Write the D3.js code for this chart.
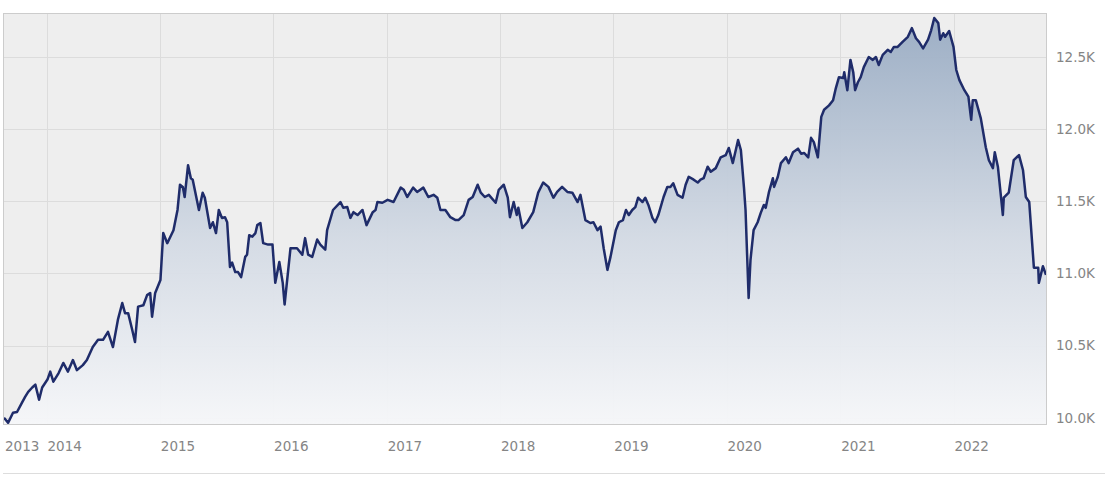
<!DOCTYPE html>
<html>
<head>
<meta charset="utf-8">
<script src="https://cdn.jsdelivr.net/npm/d3@7"></script>
<style>
  html, body { margin: 0; padding: 0; background: #fff; }
  svg { display: block; }
  .lbl { font-family: "DejaVu Sans", Verdana, sans-serif; font-size: 13.5px; fill: #858585; }
</style>
</head>
<body>
<svg id="chart" width="1105" height="486"></svg>
<script>
// weekly-ish index value
var dates2013 = ["2013-08-17","2013-08-30","2013-09-15","2013-09-28","2013-10-14","2013-10-24","2013-11-03","2013-11-16","2013-11-26","2013-12-08","2013-12-18"];
var values2013 = [10000,9965,10035,10040,10105,10145,10180,10210,10230,10125,10210];

var dates2014 = ["2014-01-04","2014-01-13","2014-01-23","2014-02-09","2014-02-24","2014-03-11","2014-03-27","2014-04-09","2014-04-28","2014-05-11","2014-05-30","2014-06-16","2014-07-02","2014-07-18","2014-08-03","2014-08-19","2014-09-02","2014-09-11","2014-09-21","2014-10-04","2014-10-13","2014-10-23","2014-11-09","2014-11-21","2014-12-01","2014-12-07","2014-12-17"];
var values2014 = [10265,10320,10250,10310,10380,10320,10400,10330,10365,10400,10490,10540,10540,10595,10490,10680,10795,10725,10725,10610,10525,10770,10780,10850,10865,10700,10865];

var dates2015 = ["2015-01-03","2015-01-12","2015-01-25","2015-02-14","2015-02-27","2015-03-07","2015-03-16","2015-03-22","2015-04-02","2015-04-11","2015-04-17","2015-05-07","2015-05-19","2015-05-26","2015-06-12","2015-06-21","2015-07-01","2015-07-10","2015-07-20","2015-07-30","2015-08-06","2015-08-15","2015-08-22","2015-09-01","2015-09-10","2015-09-20","2015-10-03","2015-10-09","2015-10-16","2015-10-26","2015-11-05","2015-11-11","2015-11-21","2015-11-30","2015-12-16","2015-12-30"];
var values2015 = [10955,11280,11210,11300,11440,11615,11600,11530,11750,11660,11650,11440,11560,11525,11315,11355,11280,11440,11385,11390,11355,11045,11075,11010,11010,10975,11115,11130,11265,11255,11280,11335,11350,11210,11200,11200];

var dates2016 = ["2016-01-08","2016-01-21","2016-02-01","2016-02-07","2016-02-26","2016-03-18","2016-04-04","2016-04-13","2016-04-23","2016-05-06","2016-05-22","2016-06-01","2016-06-17","2016-06-23","2016-07-12","2016-08-05","2016-08-14","2016-08-27","2016-09-06","2016-09-16","2016-09-29","2016-10-15","2016-10-28","2016-11-17","2016-11-26","2016-12-02","2016-12-18"];
var values2016 = [10935,11080,10935,10785,11175,11175,11130,11245,11130,11115,11235,11200,11165,11300,11440,11495,11455,11460,11385,11425,11405,11440,11335,11425,11440,11495,11490];

var dates2017 = ["2017-01-04","2017-01-23","2017-02-15","2017-02-25","2017-03-08","2017-03-27","2017-04-09","2017-04-29","2017-05-15","2017-06-01","2017-06-13","2017-06-23","2017-07-09","2017-07-25","2017-08-11","2017-08-20","2017-09-06","2017-09-22","2017-10-05","2017-10-21","2017-10-31","2017-11-13","2017-11-26","2017-12-18","2017-12-28"];
var values2017 = [11510,11495,11595,11580,11530,11595,11565,11595,11530,11545,11525,11440,11440,11390,11370,11370,11405,11510,11530,11615,11560,11530,11545,11490,11580];

var dates2018 = ["2018-01-13","2018-01-26","2018-02-02","2018-02-14","2018-02-24","2018-03-01","2018-03-14","2018-03-30","2018-04-18","2018-05-04","2018-05-20","2018-06-06","2018-06-22","2018-07-04","2018-07-20","2018-08-06","2018-08-22","2018-09-08","2018-09-17","2018-10-03","2018-10-19","2018-10-29","2018-11-11","2018-11-21","2018-12-01","2018-12-13","2018-12-23"];
var values2018 = [11615,11525,11390,11495,11405,11455,11315,11355,11425,11560,11630,11600,11525,11565,11600,11565,11560,11495,11545,11370,11350,11355,11300,11325,11175,11025,11115];

var dates2019 = ["2019-01-09","2019-01-19","2019-02-01","2019-02-11","2019-02-20","2019-03-03","2019-03-13","2019-03-22","2019-04-05","2019-04-14","2019-04-24","2019-05-07","2019-05-16","2019-05-26","2019-06-12","2019-06-24","2019-07-04","2019-07-13","2019-07-27","2019-08-12","2019-08-22","2019-09-01","2019-09-17","2019-09-30","2019-10-09","2019-10-19","2019-11-01","2019-11-11","2019-11-27","2019-12-13","2019-12-29"];
var values2019 = [11300,11355,11370,11440,11405,11440,11460,11525,11495,11525,11475,11385,11355,11405,11530,11600,11600,11625,11545,11525,11615,11670,11650,11630,11650,11660,11740,11705,11730,11805,11820];

var dates2020 = ["2020-01-08","2020-01-21","2020-02-07","2020-02-16","2020-02-26","2020-03-02","2020-03-12","2020-03-18","2020-03-28","2020-04-10","2020-04-20","2020-04-30","2020-05-06","2020-05-16","2020-05-29","2020-06-02","2020-06-14","2020-06-24","2020-07-10","2020-07-19","2020-08-02","2020-08-18","2020-08-28","2020-09-07","2020-09-20","2020-09-29","2020-10-08","2020-10-21","2020-11-01","2020-11-10","2020-11-26","2020-12-09","2020-12-18","2020-12-28"];
var values2020 = [11870,11765,11925,11855,11595,11440,10830,11095,11300,11355,11420,11475,11455,11560,11660,11600,11670,11765,11805,11765,11840,11865,11830,11835,11805,11940,11910,11805,12085,12135,12165,12200,12285,12360];

var dates2021 = ["2021-01-11","2021-01-14","2021-01-24","2021-02-03","2021-02-12","2021-02-18","2021-02-27","2021-03-08","2021-03-18","2021-04-03","2021-04-16","2021-04-26","2021-05-05","2021-05-18","2021-06-03","2021-06-13","2021-06-23","2021-07-05","2021-07-21","2021-08-07","2021-08-20","2021-09-02","2021-09-12","2021-09-25","2021-10-11","2021-10-21","2021-10-31","2021-11-13","2021-11-19","2021-11-29","2021-12-05","2021-12-18"];
var values2021 = [12355,12395,12270,12480,12395,12270,12325,12360,12430,12500,12480,12500,12445,12515,12550,12535,12570,12570,12605,12640,12700,12630,12605,12560,12620,12685,12770,12735,12620,12665,12640,12680];

var dates2022 = ["2022-01-01","2022-01-10","2022-01-20","2022-02-05","2022-02-18","2022-02-27","2022-03-04","2022-03-14","2022-03-30","2022-04-15","2022-04-25","2022-05-08","2022-05-14","2022-05-24","2022-06-03","2022-06-09","2022-06-12","2022-06-28","2022-07-14","2022-07-31","2022-08-13","2022-08-22","2022-09-02","2022-09-17","2022-10-01","2022-10-03","2022-10-16","2022-10-26"];
var values2022 = [12570,12410,12340,12270,12225,12065,12200,12200,12075,11875,11785,11730,11840,11740,11530,11405,11525,11560,11785,11820,11715,11530,11495,11040,11040,10935,11050,10990];

var yTicks = [10000,10500,11000,11500,12000,12500];
var yearTicks = ["2014","2015","2016","2017","2018","2019","2020","2021","2022"];
var firstLabel = "2013";

var width = 1105, height = 486,
    plot = {left: 3, top: 13, right: 1047, bottom: 425},
    yDomain = [9950, 12805];

var parse = d3.timeParse("%Y-%m-%d");
var dates = [].concat(dates2013,dates2014,dates2015,dates2016,dates2017,dates2018,dates2019,dates2020,dates2021,dates2022);
var values = [].concat(values2013,values2014,values2015,values2016,values2017,values2018,values2019,values2020,values2021,values2022);
var data = dates.map(function(d,i){ return {date: parse(d), value: values[i]}; });

var svg = d3.select("#chart");

var x = d3.scaleTime()
    .domain(d3.extent(data, function(d){ return d.date; }))
    .range([plot.left + 1, plot.right - 1]);
var y = d3.scaleLinear().domain(yDomain).range([plot.bottom, plot.top]);

// plot background
svg.append("rect")
    .attr("x", plot.left).attr("y", plot.top)
    .attr("width", plot.right - plot.left).attr("height", plot.bottom - plot.top)
    .attr("fill", "#eeeeee");

// gradient for the area
var grad = svg.append("defs").append("linearGradient")
    .attr("id", "areaFill")
    .attr("gradientUnits", "userSpaceOnUse")
    .attr("x1", 0).attr("y1", plot.top)
    .attr("x2", 0).attr("y2", plot.bottom);
grad.append("stop").attr("offset", "0%").attr("stop-color", "#97aac2");
grad.append("stop").attr("offset", "55%").attr("stop-color", "#d3dae4");
grad.append("stop").attr("offset", "100%").attr("stop-color", "#f6f7f9");

// grid
var yearDates = yearTicks.map(function(t){ return parse(t + "-01-01"); });
svg.append("g").selectAll("line").data(yearDates).enter().append("line")
    .attr("x1", function(d){ return Math.round(x(d)) + 0.5; })
    .attr("x2", function(d){ return Math.round(x(d)) + 0.5; })
    .attr("y1", plot.top).attr("y2", plot.bottom)
    .attr("stroke", "#dcdcdc").attr("stroke-width", 1);
svg.append("g").selectAll("line").data(yTicks).enter().append("line")
    .attr("x1", plot.left).attr("x2", plot.right)
    .attr("y1", function(d){ return Math.round(y(d)) + 0.5; })
    .attr("y2", function(d){ return Math.round(y(d)) + 0.5; })
    .attr("stroke", "#dcdcdc").attr("stroke-width", 1);

var area = d3.area()
    .x(function(d){ return x(d.date); })
    .y0(plot.bottom)
    .y1(function(d){ return y(d.value); });
var line = d3.line()
    .x(function(d){ return x(d.date); })
    .y(function(d){ return y(d.value); });

svg.append("path").datum(data)
    .attr("d", area)
    .attr("fill", "url(#areaFill)")
    .attr("fill-opacity", 0.95);

svg.append("path").datum(data)
    .attr("d", line)
    .attr("fill", "none")
    .attr("stroke", "#1f2c6a")
    .attr("stroke-width", 2.5)
    .attr("stroke-linejoin", "round");

// border
svg.append("rect")
    .attr("x", plot.left + 0.5).attr("y", plot.top + 0.5)
    .attr("width", plot.right - plot.left - 1).attr("height", plot.bottom - plot.top - 1)
    .attr("fill", "none").attr("stroke", "#cccccc");

// y labels on the right
svg.append("g").selectAll("text").data(yTicks).enter().append("text")
    .attr("class", "lbl")
    .attr("x", plot.right + 9)
    .attr("y", function(d){ return y(d); })
    .attr("dy", "0.36em")
    .text(function(d){ return d3.format(".1f")(d / 1000) + "K"; });

// x labels
var xLabels = [{date: data[0].date, text: firstLabel}].concat(yearDates.map(function(d,i){ return {date: d, text: yearTicks[i]}; }));
svg.append("g").selectAll("text").data(xLabels).enter().append("text")
    .attr("class", "lbl")
    .attr("x", function(d){ return x(d.date) + 1; })
    .attr("y", 451)
    .text(function(d){ return d.text; });

// bottom separator
svg.append("line")
    .attr("x1", plot.left).attr("x2", width)
    .attr("y1", 473.5).attr("y2", 473.5)
    .attr("stroke", "#dddddd");
</script>
</body>
</html>
